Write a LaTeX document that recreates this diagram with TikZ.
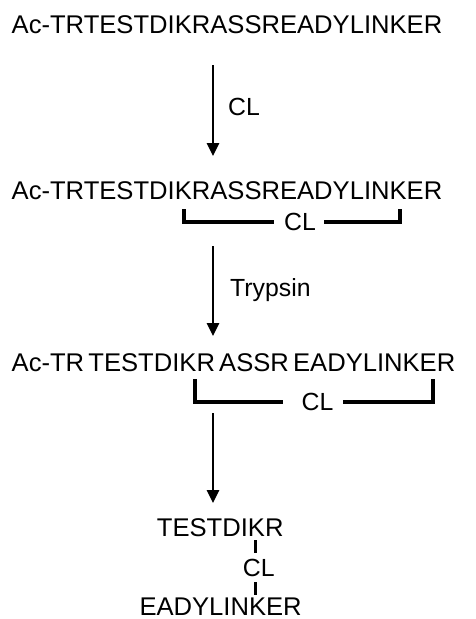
\documentclass[tikz,border=0pt]{standalone}
\usepackage{fontspec}
\setmainfont{Liberation Sans}
\usetikzlibrary{arrows.meta}
\newcommand{\gapsp}{\hspace{4.2pt}}
\begin{document}
\begin{tikzpicture}[x=1pt,y=-1pt,
  seq/.style={anchor=base west,inner sep=0pt,font=\fontsize{25.6}{30}\selectfont},
  lbl/.style={anchor=base west,inner sep=0pt,font=\fontsize{24.8}{30}\selectfont},
  clmid/.style={inner sep=0pt,font=\fontsize{24.8}{30}\selectfont},
  rxn/.style={line width=1.3pt,-{Triangle[length=13pt,width=12.5pt]}},
  bracket/.style={line width=4pt},
  link/.style={line width=3.4pt}]
\useasboundingbox (0,0) rectangle (475,619);
% line 1
\node[seq] (s1) at (11.5,33.5) {Ac-TRTESTDIKRASSREADYLINKER};
\coordinate (a1s) at (213,65);
\coordinate (a1e) at (213,156);
\draw[rxn] (a1s) -- (a1e);
\node[lbl] (l1) at (228,115) {CL};
% line 2
\node[seq] (s2) at (11.5,199) {Ac-TRTESTDIKRASSREADYLINKER};
\node[clmid] (c2) at (300,222) {CL};
\coordinate (b2a) at (184,209);
\coordinate (b2b) at (273.5,222);
\coordinate (b2c) at (324,222);
\coordinate (b2d) at (400.3,209);
\draw[bracket] (b2a) |- (b2b);
\draw[bracket] (b2c) -| (b2d);
\coordinate (a2s) at (213,246);
\coordinate (a2e) at (213,336);
\draw[rxn] (a2s) -- (a2e);
\node[lbl] (l2) at (230,296) {Trypsin};
% line 3
\node[seq] (s3) at (11.5,371) {Ac-TR\gapsp TESTDIKR\gapsp ASSR\gapsp EADYLINKER};
\node[clmid] (c3) at (317.5,401.5) {CL};
\coordinate (b3a) at (195,379);
\coordinate (b3b) at (283,401.5);
\coordinate (b3c) at (343,401.5);
\coordinate (b3d) at (433,379);
\draw[bracket] (b3a) |- (b3b);
\draw[bracket] (b3c) -| (b3d);
\coordinate (a3s) at (213,413);
\coordinate (a3e) at (213,503);
\draw[rxn] (a3s) -- (a3e);
% bottom
\node[seq] (p1) at (156.7,536) {TESTDIKR};
\node[lbl] (c4) at (242.7,576.7) {CL};
\node[seq] (p2) at (139.3,615.5) {EADYLINKER};
\coordinate (v1a) at (255.5,540);
\coordinate (v1b) at (255.5,553);
\coordinate (v2a) at (255.5,582);
\coordinate (v2b) at (255.5,595);
\draw[link] (v1a) -- (v1b);
\draw[link] (v2a) -- (v2b);
\end{tikzpicture}
\end{document}
